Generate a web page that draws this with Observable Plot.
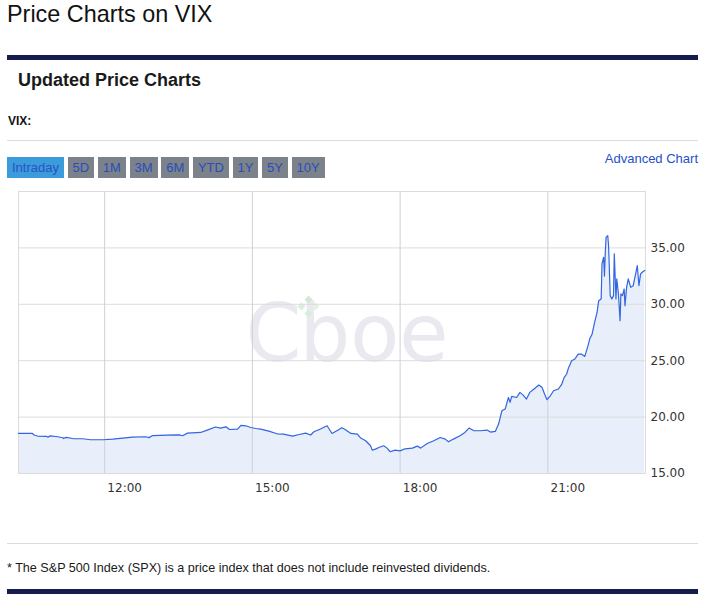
<!DOCTYPE html>
<html>
<head>
<meta charset="utf-8">
<script src="https://cdn.jsdelivr.net/npm/d3@7"></script>
<script src="https://cdn.jsdelivr.net/npm/@observablehq/plot@0.6"></script>
<style>
  html, body { margin: 0; padding: 0; background: #fff; }
  body { position: relative; width: 705px; height: 602px; overflow: hidden;
         font-family: "Liberation Sans", Arial, Helvetica, sans-serif; color: #111; }
  .abs { position: absolute; line-height: 1; white-space: nowrap; }
  #title { left: 7px; top: 3px; font-size: 23.4px; color: #111; }
  #sub { left: 18px; top: 71px; font-size: 18px; font-weight: bold; color: #1a1a1a; }
  #sym { left: 8px; top: 115px; font-size: 12px; font-weight: bold; color: #111; }
  #adv { right: 7px; top: 152px; font-size: 13px; color: #2451c8; }
  #foot { left: 7px; top: 562px; font-size: 12.6px; color: #1a1a1a; }
  .navy { position: absolute; left: 7px; width: 691px; height: 5px; background: #161d4e; }
  .thin { position: absolute; left: 7px; width: 691px; height: 1px; background: #dcdcdc; }
  #buttons { position: absolute; left: 7px; top: 157px; font-size: 13px; white-space: nowrap; }
  .btn { display: inline-block; height: 21px; line-height: 21px; padding: 0 5px;
         background: #7c8289; color: #2a4dbd; }
  .btn.active { background: #3b9bdb; color: #2a52c4; }
  #chart { position: absolute; left: 0; top: 185px; }
</style>
</head>
<body>
<div class="abs" id="title">Price Charts on VIX</div>
<div class="navy" style="top:55px"></div>
<div class="abs" id="sub">Updated Price Charts</div>
<div class="abs" id="sym">VIX:</div>
<div class="thin" style="top:140px"></div>
<div id="buttons"></div>
<div class="abs" id="adv">Advanced Chart</div>
<div id="chart"></div>
<div class="thin" style="top:543px"></div>
<div class="abs" id="foot">* The S&amp;P 500 Index (SPX) is a price index that does not include reinvested dividends.</div>
<div class="navy" style="top:589px"></div>

<script>
// ---- data ----
const rangeButtons = ["Intraday", "5D", "1M", "3M", "6M", "YTD", "1Y", "5Y", "10Y"];
const activeButton = "Intraday";

const times = ["10:15","10:32","10:34","10:38","10:49","10:51","10:53","11:01","11:09","11:10",
  "11:13","11:21","11:33","11:43","11:58","12:10","12:22","12:34","12:50","12:54",
  "12:58","13:17","13:31","13:35","13:41","13:57","14:05","14:15","14:21","14:28",
  "14:32","14:42","14:46","14:52","14:58","15:04","15:10","15:20","15:30","15:38",
  "15:49","15:57","16:05","16:11","16:15","16:23","16:31","16:37","16:43","16:49",
  "16:53","17:00","17:08","17:12","17:18","17:24","17:26","17:30","17:34","17:40",
  "17:44","17:48","17:54","18:00","18:06","18:15","18:21","18:25","18:33","18:41",
  "18:49","18:55","18:59","19:05","19:13","19:19","19:24","19:30","19:38","19:46",
  "19:50","19:56","20:00","20:04","20:08","20:12","20:14","20:16","20:22","20:26",
  "20:30","20:34","20:38","20:44","20:49","20:53","20:56","20:59","21:03","21:07",
  "21:13","21:17","21:20","21:23","21:25","21:29","21:33","21:37","21:41","21:45",
  "21:49","21:51","21:54","21:57","22:00","22:02","22:05","22:06","22:08","22:09",
  "22:10","22:11","22:13","22:14","22:16","22:18","22:20","22:21","22:23","22:24",
  "22:26","22:28","22:29","22:31","22:33","22:34","22:36","22:38","22:41","22:44",
  "22:47","22:49","22:51","22:53","22:55","22:58"];

const vixValues = [18.55,18.55,18.41,18.32,18.30,18.22,18.33,18.28,18.17,18.10,
  18.20,18.10,18.08,17.99,17.99,18.05,18.14,18.23,18.26,18.18,
  18.35,18.41,18.43,18.35,18.58,18.64,18.85,19.12,19.03,19.14,
  18.90,18.94,19.26,19.23,19.08,18.99,18.94,18.76,18.52,18.49,
  18.32,18.46,18.58,18.41,18.70,18.94,19.23,18.55,18.79,19.06,
  18.90,18.55,18.49,18.14,17.90,17.46,17.07,17.16,17.31,17.46,
  17.25,16.93,17.07,17.01,17.19,17.25,17.43,17.25,17.66,17.90,
  18.19,18.05,17.81,18.05,18.35,18.64,19.03,18.79,18.79,18.85,
  18.67,18.73,19.38,20.56,20.71,21.74,21.30,21.83,21.74,22.19,
  21.95,21.60,22.19,22.54,22.84,22.63,22.05,21.54,21.89,22.34,
  22.49,22.93,23.52,23.82,24.32,25.00,25.15,25.59,25.59,25.38,
  26.33,26.92,27.37,28.40,29.29,30.32,30.47,33.58,34.17,32.50,
  34.60,35.94,36.09,35.20,30.77,30.47,30.77,34.47,30.47,32.25,
  30.92,28.55,30.92,30.77,31.36,29.88,31.50,32.25,31.50,31.65,
  32.69,33.43,31.65,32.69,32.84,32.99];

const xDomain = ["10:15", "22:59"];
const xTickLabels = ["12:00", "15:00", "18:00", "21:00"];
const yDomain = [15, 40];
const yTicks = [15, 20, 25, 30, 35, 40];
const yLabelTicks = [15, 20, 25, 30, 35];

// ---- header buttons ----
const bwrap = document.getElementById("buttons");
bwrap.innerHTML = rangeButtons
  .map(b => `<span class="btn${b === activeButton ? " active" : ""}">${b}</span>`)
  .join(" ");

// ---- chart ----
const parseT = s => { const [h, m] = s.split(":").map(Number); return new Date(Date.UTC(2020, 2, 9, h, m)); };
const data = times.map((t, i) => ({ t: parseT(t), v: vixValues[i] }));
const xTicks = xTickLabels.map(parseT);

const wm = { fontFamily: "'DejaVu Sans', sans-serif", fontSize: 80, fill: "#e9e9ef",
             textAnchor: "start", lineAnchor: "top", frameAnchor: "top-left" };
const diamonds = [[290, 108, "#d3e9d6"], [283, 115, "#dcefdd"], [297, 115, "#e3f2e4"], [290, 122, "#d9eddb"]];

const chart = Plot.plot({
  width: 705,
  height: 320,
  marginLeft: 18,
  marginRight: 60,
  marginTop: 6,
  marginBottom: 32,
  style: { fontFamily: "'DejaVu Sans', Verdana, sans-serif", fontSize: "12px", color: "#333", background: "transparent", overflow: "visible" },
  x: { type: "utc", domain: xDomain.map(parseT), label: null },
  y: { domain: yDomain, label: null },
  marks: [
    Plot.text(["C"], { ...wm, text: d => d, dx: 227, dy: 113 }),
    Plot.text(["boe"], { ...wm, text: d => d, dx: 281, dy: 113 }),
    ...diamonds.map(([dx, dy, c]) => Plot.dot([0], { frameAnchor: "top-left", dx, dy, r: 3.6, symbol: "diamond2", fill: c, stroke: "none" })),
    Plot.areaY(data, { x: "t", y1: yDomain[0], y2: "v", fill: "#e6ecfa", fillOpacity: 0.9 }),
    Plot.gridY(yTicks, { stroke: "#dcdcdc", strokeOpacity: 1 }),
    Plot.gridX(xTicks, { stroke: "#cfd0d6", strokeOpacity: 1 }),
    Plot.frame({ stroke: "#dcdcdc" }),
    Plot.lineY(data, { x: "t", y: "v", stroke: "#3366e0", strokeWidth: 1.2 }),
    Plot.axisX(xTicks, { label: null, tickSize: 0, tickPadding: 10, dx: 20, tickFormat: d3.utcFormat("%H:%M"), fill: "#333" }),
    Plot.axisY(yLabelTicks, { label: null, anchor: "right", tickSize: 0, tickPadding: 5, tickFormat: d3.format(".2f"), fill: "#333" })
  ]
});
document.getElementById("chart").appendChild(chart);
</script>
</body>
</html>
